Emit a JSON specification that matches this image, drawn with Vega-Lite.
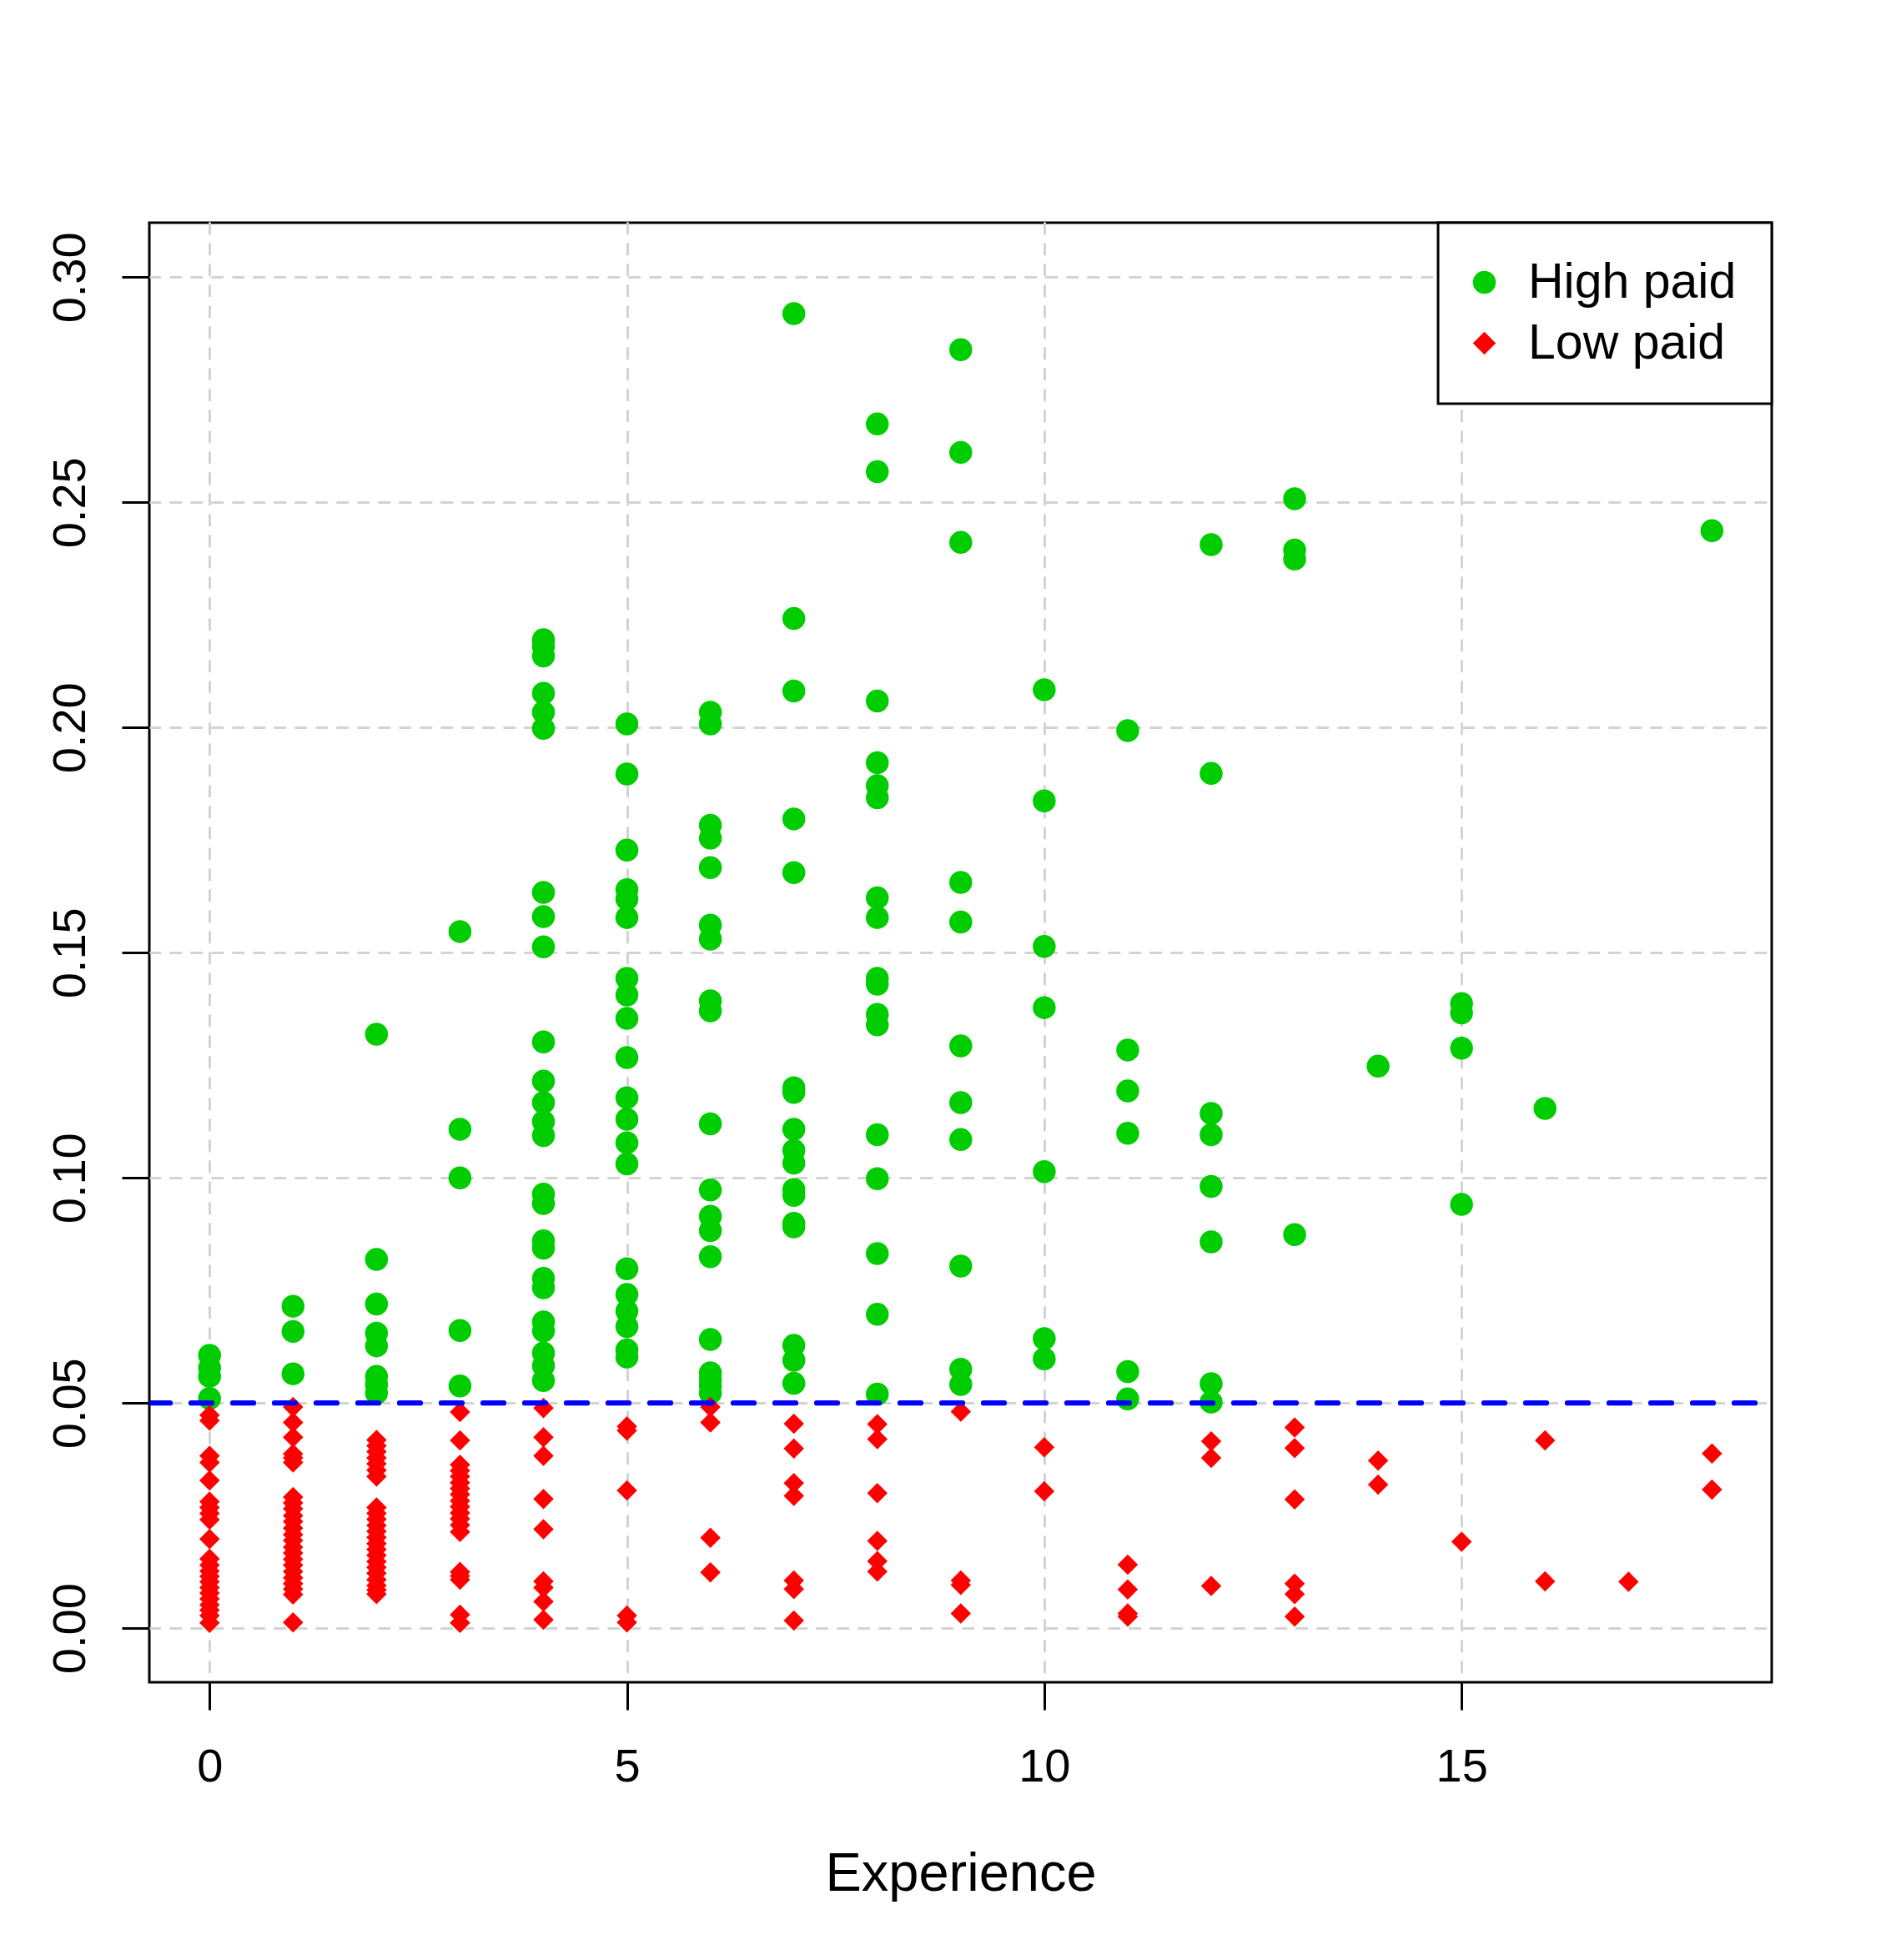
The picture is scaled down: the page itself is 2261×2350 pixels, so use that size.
{
  "$schema": "https://vega.github.io/schema/vega-lite/v6.json",
  "autosize": {"type": "none"},
  "padding": {"left": 179, "top": 267, "right": 137, "bottom": 333},
  "width": 1945,
  "height": 1750,
  "background": "#ffffff",
  "datasets": {
    "workers": [
      {"experience": 0, "rate": 0.0606, "group": "High paid"},
      {"experience": 0, "rate": 0.0578, "group": "High paid"},
      {"experience": 0, "rate": 0.0559, "group": "High paid"},
      {"experience": 0, "rate": 0.0510, "group": "High paid"},
      {"experience": 1, "rate": 0.0715, "group": "High paid"},
      {"experience": 1, "rate": 0.0659, "group": "High paid"},
      {"experience": 1, "rate": 0.0565, "group": "High paid"},
      {"experience": 2, "rate": 0.1319, "group": "High paid"},
      {"experience": 2, "rate": 0.0819, "group": "High paid"},
      {"experience": 2, "rate": 0.0720, "group": "High paid"},
      {"experience": 2, "rate": 0.0655, "group": "High paid"},
      {"experience": 2, "rate": 0.0627, "group": "High paid"},
      {"experience": 2, "rate": 0.0559, "group": "High paid"},
      {"experience": 2, "rate": 0.0541, "group": "High paid"},
      {"experience": 2, "rate": 0.0522, "group": "High paid"},
      {"experience": 3, "rate": 0.1547, "group": "High paid"},
      {"experience": 3, "rate": 0.1108, "group": "High paid"},
      {"experience": 3, "rate": 0.1000, "group": "High paid"},
      {"experience": 3, "rate": 0.0661, "group": "High paid"},
      {"experience": 3, "rate": 0.0538, "group": "High paid"},
      {"experience": 4, "rate": 0.2195, "group": "High paid"},
      {"experience": 4, "rate": 0.2180, "group": "High paid"},
      {"experience": 4, "rate": 0.2159, "group": "High paid"},
      {"experience": 4, "rate": 0.2076, "group": "High paid"},
      {"experience": 4, "rate": 0.2034, "group": "High paid"},
      {"experience": 4, "rate": 0.1998, "group": "High paid"},
      {"experience": 4, "rate": 0.1634, "group": "High paid"},
      {"experience": 4, "rate": 0.1580, "group": "High paid"},
      {"experience": 4, "rate": 0.1513, "group": "High paid"},
      {"experience": 4, "rate": 0.1302, "group": "High paid"},
      {"experience": 4, "rate": 0.1215, "group": "High paid"},
      {"experience": 4, "rate": 0.1167, "group": "High paid"},
      {"experience": 4, "rate": 0.1125, "group": "High paid"},
      {"experience": 4, "rate": 0.1094, "group": "High paid"},
      {"experience": 4, "rate": 0.0964, "group": "High paid"},
      {"experience": 4, "rate": 0.0943, "group": "High paid"},
      {"experience": 4, "rate": 0.0860, "group": "High paid"},
      {"experience": 4, "rate": 0.0844, "group": "High paid"},
      {"experience": 4, "rate": 0.0777, "group": "High paid"},
      {"experience": 4, "rate": 0.0756, "group": "High paid"},
      {"experience": 4, "rate": 0.0680, "group": "High paid"},
      {"experience": 4, "rate": 0.0660, "group": "High paid"},
      {"experience": 4, "rate": 0.0611, "group": "High paid"},
      {"experience": 4, "rate": 0.0583, "group": "High paid"},
      {"experience": 4, "rate": 0.0550, "group": "High paid"},
      {"experience": 5, "rate": 0.2008, "group": "High paid"},
      {"experience": 5, "rate": 0.1897, "group": "High paid"},
      {"experience": 5, "rate": 0.1728, "group": "High paid"},
      {"experience": 5, "rate": 0.1640, "group": "High paid"},
      {"experience": 5, "rate": 0.1619, "group": "High paid"},
      {"experience": 5, "rate": 0.1578, "group": "High paid"},
      {"experience": 5, "rate": 0.1443, "group": "High paid"},
      {"experience": 5, "rate": 0.1406, "group": "High paid"},
      {"experience": 5, "rate": 0.1354, "group": "High paid"},
      {"experience": 5, "rate": 0.1267, "group": "High paid"},
      {"experience": 5, "rate": 0.1178, "group": "High paid"},
      {"experience": 5, "rate": 0.1130, "group": "High paid"},
      {"experience": 5, "rate": 0.1078, "group": "High paid"},
      {"experience": 5, "rate": 0.1031, "group": "High paid"},
      {"experience": 5, "rate": 0.0798, "group": "High paid"},
      {"experience": 5, "rate": 0.0741, "group": "High paid"},
      {"experience": 5, "rate": 0.0704, "group": "High paid"},
      {"experience": 5, "rate": 0.0670, "group": "High paid"},
      {"experience": 5, "rate": 0.0618, "group": "High paid"},
      {"experience": 5, "rate": 0.0602, "group": "High paid"},
      {"experience": 6, "rate": 0.2034, "group": "High paid"},
      {"experience": 6, "rate": 0.2008, "group": "High paid"},
      {"experience": 6, "rate": 0.1783, "group": "High paid"},
      {"experience": 6, "rate": 0.1754, "group": "High paid"},
      {"experience": 6, "rate": 0.1689, "group": "High paid"},
      {"experience": 6, "rate": 0.1561, "group": "High paid"},
      {"experience": 6, "rate": 0.1530, "group": "High paid"},
      {"experience": 6, "rate": 0.1393, "group": "High paid"},
      {"experience": 6, "rate": 0.1371, "group": "High paid"},
      {"experience": 6, "rate": 0.1120, "group": "High paid"},
      {"experience": 6, "rate": 0.0973, "group": "High paid"},
      {"experience": 6, "rate": 0.0915, "group": "High paid"},
      {"experience": 6, "rate": 0.0883, "group": "High paid"},
      {"experience": 6, "rate": 0.0825, "group": "High paid"},
      {"experience": 6, "rate": 0.0641, "group": "High paid"},
      {"experience": 6, "rate": 0.0567, "group": "High paid"},
      {"experience": 6, "rate": 0.0553, "group": "High paid"},
      {"experience": 6, "rate": 0.0539, "group": "High paid"},
      {"experience": 6, "rate": 0.0522, "group": "High paid"},
      {"experience": 7, "rate": 0.2919, "group": "High paid"},
      {"experience": 7, "rate": 0.2242, "group": "High paid"},
      {"experience": 7, "rate": 0.2081, "group": "High paid"},
      {"experience": 7, "rate": 0.1797, "group": "High paid"},
      {"experience": 7, "rate": 0.1678, "group": "High paid"},
      {"experience": 7, "rate": 0.1200, "group": "High paid"},
      {"experience": 7, "rate": 0.1190, "group": "High paid"},
      {"experience": 7, "rate": 0.1108, "group": "High paid"},
      {"experience": 7, "rate": 0.1061, "group": "High paid"},
      {"experience": 7, "rate": 0.1033, "group": "High paid"},
      {"experience": 7, "rate": 0.0974, "group": "High paid"},
      {"experience": 7, "rate": 0.0961, "group": "High paid"},
      {"experience": 7, "rate": 0.0899, "group": "High paid"},
      {"experience": 7, "rate": 0.0891, "group": "High paid"},
      {"experience": 7, "rate": 0.0628, "group": "High paid"},
      {"experience": 7, "rate": 0.0595, "group": "High paid"},
      {"experience": 7, "rate": 0.0544, "group": "High paid"},
      {"experience": 8, "rate": 0.2674, "group": "High paid"},
      {"experience": 8, "rate": 0.2568, "group": "High paid"},
      {"experience": 8, "rate": 0.2059, "group": "High paid"},
      {"experience": 8, "rate": 0.1922, "group": "High paid"},
      {"experience": 8, "rate": 0.1871, "group": "High paid"},
      {"experience": 8, "rate": 0.1844, "group": "High paid"},
      {"experience": 8, "rate": 0.1622, "group": "High paid"},
      {"experience": 8, "rate": 0.1578, "group": "High paid"},
      {"experience": 8, "rate": 0.1443, "group": "High paid"},
      {"experience": 8, "rate": 0.1430, "group": "High paid"},
      {"experience": 8, "rate": 0.1363, "group": "High paid"},
      {"experience": 8, "rate": 0.1340, "group": "High paid"},
      {"experience": 8, "rate": 0.1096, "group": "High paid"},
      {"experience": 8, "rate": 0.0998, "group": "High paid"},
      {"experience": 8, "rate": 0.0832, "group": "High paid"},
      {"experience": 8, "rate": 0.0697, "group": "High paid"},
      {"experience": 8, "rate": 0.0520, "group": "High paid"},
      {"experience": 9, "rate": 0.2839, "group": "High paid"},
      {"experience": 9, "rate": 0.2611, "group": "High paid"},
      {"experience": 9, "rate": 0.2411, "group": "High paid"},
      {"experience": 9, "rate": 0.1656, "group": "High paid"},
      {"experience": 9, "rate": 0.1568, "group": "High paid"},
      {"experience": 9, "rate": 0.1293, "group": "High paid"},
      {"experience": 9, "rate": 0.1167, "group": "High paid"},
      {"experience": 9, "rate": 0.1085, "group": "High paid"},
      {"experience": 9, "rate": 0.0804, "group": "High paid"},
      {"experience": 9, "rate": 0.0575, "group": "High paid"},
      {"experience": 9, "rate": 0.0541, "group": "High paid"},
      {"experience": 10, "rate": 0.2084, "group": "High paid"},
      {"experience": 10, "rate": 0.1837, "group": "High paid"},
      {"experience": 10, "rate": 0.1514, "group": "High paid"},
      {"experience": 10, "rate": 0.1378, "group": "High paid"},
      {"experience": 10, "rate": 0.1014, "group": "High paid"},
      {"experience": 10, "rate": 0.0643, "group": "High paid"},
      {"experience": 10, "rate": 0.0598, "group": "High paid"},
      {"experience": 11, "rate": 0.1993, "group": "High paid"},
      {"experience": 11, "rate": 0.1284, "group": "High paid"},
      {"experience": 11, "rate": 0.1193, "group": "High paid"},
      {"experience": 11, "rate": 0.1099, "group": "High paid"},
      {"experience": 11, "rate": 0.0570, "group": "High paid"},
      {"experience": 11, "rate": 0.0509, "group": "High paid"},
      {"experience": 12, "rate": 0.2406, "group": "High paid"},
      {"experience": 12, "rate": 0.1898, "group": "High paid"},
      {"experience": 12, "rate": 0.1143, "group": "High paid"},
      {"experience": 12, "rate": 0.1096, "group": "High paid"},
      {"experience": 12, "rate": 0.0981, "group": "High paid"},
      {"experience": 12, "rate": 0.0858, "group": "High paid"},
      {"experience": 12, "rate": 0.0543, "group": "High paid"},
      {"experience": 12, "rate": 0.0502, "group": "High paid"},
      {"experience": 13, "rate": 0.2508, "group": "High paid"},
      {"experience": 13, "rate": 0.2394, "group": "High paid"},
      {"experience": 13, "rate": 0.2374, "group": "High paid"},
      {"experience": 13, "rate": 0.0874, "group": "High paid"},
      {"experience": 14, "rate": 0.1248, "group": "High paid"},
      {"experience": 15, "rate": 0.1387, "group": "High paid"},
      {"experience": 15, "rate": 0.1366, "group": "High paid"},
      {"experience": 15, "rate": 0.1288, "group": "High paid"},
      {"experience": 15, "rate": 0.0941, "group": "High paid"},
      {"experience": 16, "rate": 0.1154, "group": "High paid"},
      {"experience": 18, "rate": 0.2437, "group": "High paid"},
      {"experience": 0, "rate": 0.0473, "group": "Low paid"},
      {"experience": 0, "rate": 0.0461, "group": "Low paid"},
      {"experience": 0, "rate": 0.0383, "group": "Low paid"},
      {"experience": 0, "rate": 0.0368, "group": "Low paid"},
      {"experience": 0, "rate": 0.0328, "group": "Low paid"},
      {"experience": 0, "rate": 0.0281, "group": "Low paid"},
      {"experience": 0, "rate": 0.0268, "group": "Low paid"},
      {"experience": 0, "rate": 0.0255, "group": "Low paid"},
      {"experience": 0, "rate": 0.0241, "group": "Low paid"},
      {"experience": 0, "rate": 0.0198, "group": "Low paid"},
      {"experience": 0, "rate": 0.0154, "group": "Low paid"},
      {"experience": 0, "rate": 0.0140, "group": "Low paid"},
      {"experience": 0, "rate": 0.0127, "group": "Low paid"},
      {"experience": 0, "rate": 0.0115, "group": "Low paid"},
      {"experience": 0, "rate": 0.0103, "group": "Low paid"},
      {"experience": 0, "rate": 0.0090, "group": "Low paid"},
      {"experience": 0, "rate": 0.0078, "group": "Low paid"},
      {"experience": 0, "rate": 0.0065, "group": "Low paid"},
      {"experience": 0, "rate": 0.0052, "group": "Low paid"},
      {"experience": 0, "rate": 0.0040, "group": "Low paid"},
      {"experience": 0, "rate": 0.0028, "group": "Low paid"},
      {"experience": 0, "rate": 0.0012, "group": "Low paid"},
      {"experience": 1, "rate": 0.0491, "group": "Low paid"},
      {"experience": 1, "rate": 0.0457, "group": "Low paid"},
      {"experience": 1, "rate": 0.0424, "group": "Low paid"},
      {"experience": 1, "rate": 0.0387, "group": "Low paid"},
      {"experience": 1, "rate": 0.0378, "group": "Low paid"},
      {"experience": 1, "rate": 0.0368, "group": "Low paid"},
      {"experience": 1, "rate": 0.0291, "group": "Low paid"},
      {"experience": 1, "rate": 0.0278, "group": "Low paid"},
      {"experience": 1, "rate": 0.0265, "group": "Low paid"},
      {"experience": 1, "rate": 0.0250, "group": "Low paid"},
      {"experience": 1, "rate": 0.0237, "group": "Low paid"},
      {"experience": 1, "rate": 0.0222, "group": "Low paid"},
      {"experience": 1, "rate": 0.0208, "group": "Low paid"},
      {"experience": 1, "rate": 0.0195, "group": "Low paid"},
      {"experience": 1, "rate": 0.0180, "group": "Low paid"},
      {"experience": 1, "rate": 0.0167, "group": "Low paid"},
      {"experience": 1, "rate": 0.0153, "group": "Low paid"},
      {"experience": 1, "rate": 0.0140, "group": "Low paid"},
      {"experience": 1, "rate": 0.0126, "group": "Low paid"},
      {"experience": 1, "rate": 0.0112, "group": "Low paid"},
      {"experience": 1, "rate": 0.0099, "group": "Low paid"},
      {"experience": 1, "rate": 0.0087, "group": "Low paid"},
      {"experience": 1, "rate": 0.0075, "group": "Low paid"},
      {"experience": 1, "rate": 0.0013, "group": "Low paid"},
      {"experience": 2, "rate": 0.0418, "group": "Low paid"},
      {"experience": 2, "rate": 0.0405, "group": "Low paid"},
      {"experience": 2, "rate": 0.0392, "group": "Low paid"},
      {"experience": 2, "rate": 0.0378, "group": "Low paid"},
      {"experience": 2, "rate": 0.0365, "group": "Low paid"},
      {"experience": 2, "rate": 0.0351, "group": "Low paid"},
      {"experience": 2, "rate": 0.0337, "group": "Low paid"},
      {"experience": 2, "rate": 0.0268, "group": "Low paid"},
      {"experience": 2, "rate": 0.0255, "group": "Low paid"},
      {"experience": 2, "rate": 0.0242, "group": "Low paid"},
      {"experience": 2, "rate": 0.0228, "group": "Low paid"},
      {"experience": 2, "rate": 0.0215, "group": "Low paid"},
      {"experience": 2, "rate": 0.0202, "group": "Low paid"},
      {"experience": 2, "rate": 0.0188, "group": "Low paid"},
      {"experience": 2, "rate": 0.0175, "group": "Low paid"},
      {"experience": 2, "rate": 0.0162, "group": "Low paid"},
      {"experience": 2, "rate": 0.0148, "group": "Low paid"},
      {"experience": 2, "rate": 0.0135, "group": "Low paid"},
      {"experience": 2, "rate": 0.0122, "group": "Low paid"},
      {"experience": 2, "rate": 0.0108, "group": "Low paid"},
      {"experience": 2, "rate": 0.0095, "group": "Low paid"},
      {"experience": 2, "rate": 0.0085, "group": "Low paid"},
      {"experience": 2, "rate": 0.0076, "group": "Low paid"},
      {"experience": 3, "rate": 0.0480, "group": "Low paid"},
      {"experience": 3, "rate": 0.0417, "group": "Low paid"},
      {"experience": 3, "rate": 0.0363, "group": "Low paid"},
      {"experience": 3, "rate": 0.0350, "group": "Low paid"},
      {"experience": 3, "rate": 0.0337, "group": "Low paid"},
      {"experience": 3, "rate": 0.0323, "group": "Low paid"},
      {"experience": 3, "rate": 0.0310, "group": "Low paid"},
      {"experience": 3, "rate": 0.0297, "group": "Low paid"},
      {"experience": 3, "rate": 0.0283, "group": "Low paid"},
      {"experience": 3, "rate": 0.0270, "group": "Low paid"},
      {"experience": 3, "rate": 0.0256, "group": "Low paid"},
      {"experience": 3, "rate": 0.0243, "group": "Low paid"},
      {"experience": 3, "rate": 0.0229, "group": "Low paid"},
      {"experience": 3, "rate": 0.0214, "group": "Low paid"},
      {"experience": 3, "rate": 0.0125, "group": "Low paid"},
      {"experience": 3, "rate": 0.0116, "group": "Low paid"},
      {"experience": 3, "rate": 0.0108, "group": "Low paid"},
      {"experience": 3, "rate": 0.0030, "group": "Low paid"},
      {"experience": 3, "rate": 0.0012, "group": "Low paid"},
      {"experience": 4, "rate": 0.0489, "group": "Low paid"},
      {"experience": 4, "rate": 0.0424, "group": "Low paid"},
      {"experience": 4, "rate": 0.0383, "group": "Low paid"},
      {"experience": 4, "rate": 0.0287, "group": "Low paid"},
      {"experience": 4, "rate": 0.0220, "group": "Low paid"},
      {"experience": 4, "rate": 0.0104, "group": "Low paid"},
      {"experience": 4, "rate": 0.0090, "group": "Low paid"},
      {"experience": 4, "rate": 0.0059, "group": "Low paid"},
      {"experience": 4, "rate": 0.0019, "group": "Low paid"},
      {"experience": 5, "rate": 0.0448, "group": "Low paid"},
      {"experience": 5, "rate": 0.0439, "group": "Low paid"},
      {"experience": 5, "rate": 0.0306, "group": "Low paid"},
      {"experience": 5, "rate": 0.0028, "group": "Low paid"},
      {"experience": 5, "rate": 0.0013, "group": "Low paid"},
      {"experience": 6, "rate": 0.0491, "group": "Low paid"},
      {"experience": 6, "rate": 0.0457, "group": "Low paid"},
      {"experience": 6, "rate": 0.0201, "group": "Low paid"},
      {"experience": 6, "rate": 0.0124, "group": "Low paid"},
      {"experience": 7, "rate": 0.0454, "group": "Low paid"},
      {"experience": 7, "rate": 0.0399, "group": "Low paid"},
      {"experience": 7, "rate": 0.0322, "group": "Low paid"},
      {"experience": 7, "rate": 0.0294, "group": "Low paid"},
      {"experience": 7, "rate": 0.0106, "group": "Low paid"},
      {"experience": 7, "rate": 0.0087, "group": "Low paid"},
      {"experience": 7, "rate": 0.0017, "group": "Low paid"},
      {"experience": 8, "rate": 0.0453, "group": "Low paid"},
      {"experience": 8, "rate": 0.0420, "group": "Low paid"},
      {"experience": 8, "rate": 0.0300, "group": "Low paid"},
      {"experience": 8, "rate": 0.0194, "group": "Low paid"},
      {"experience": 8, "rate": 0.0149, "group": "Low paid"},
      {"experience": 8, "rate": 0.0126, "group": "Low paid"},
      {"experience": 9, "rate": 0.0481, "group": "Low paid"},
      {"experience": 9, "rate": 0.0106, "group": "Low paid"},
      {"experience": 9, "rate": 0.0096, "group": "Low paid"},
      {"experience": 9, "rate": 0.0033, "group": "Low paid"},
      {"experience": 10, "rate": 0.0402, "group": "Low paid"},
      {"experience": 10, "rate": 0.0304, "group": "Low paid"},
      {"experience": 11, "rate": 0.0141, "group": "Low paid"},
      {"experience": 11, "rate": 0.0086, "group": "Low paid"},
      {"experience": 11, "rate": 0.0033, "group": "Low paid"},
      {"experience": 11, "rate": 0.0026, "group": "Low paid"},
      {"experience": 12, "rate": 0.0415, "group": "Low paid"},
      {"experience": 12, "rate": 0.0378, "group": "Low paid"},
      {"experience": 12, "rate": 0.0094, "group": "Low paid"},
      {"experience": 13, "rate": 0.0446, "group": "Low paid"},
      {"experience": 13, "rate": 0.0400, "group": "Low paid"},
      {"experience": 13, "rate": 0.0286, "group": "Low paid"},
      {"experience": 13, "rate": 0.0099, "group": "Low paid"},
      {"experience": 13, "rate": 0.0076, "group": "Low paid"},
      {"experience": 13, "rate": 0.0026, "group": "Low paid"},
      {"experience": 14, "rate": 0.0372, "group": "Low paid"},
      {"experience": 14, "rate": 0.0319, "group": "Low paid"},
      {"experience": 15, "rate": 0.0192, "group": "Low paid"},
      {"experience": 16, "rate": 0.0417, "group": "Low paid"},
      {"experience": 16, "rate": 0.0104, "group": "Low paid"},
      {"experience": 17, "rate": 0.0103, "group": "Low paid"},
      {"experience": 18, "rate": 0.0388, "group": "Low paid"},
      {"experience": 18, "rate": 0.0308, "group": "Low paid"}
    ],
    "cutoff": [{"rate": 0.05}]
  },
  "layer": [
    {
      "data": {"name": "workers"},
      "mark": {"type": "point", "filled": true, "opacity": 1, "strokeWidth": 0},
      "encoding": {
        "x": {
          "field": "experience",
          "type": "quantitative",
          "scale": {"domain": [-0.722, 18.716], "nice": false, "zero": false},
          "axis": {
            "values": [0, 5, 10, 15],
            "format": "d",
            "title": "Experience",
            "titleY": 249.5,
            "titleBaseline": "alphabetic",
            "titleFontSize": 65,
            "labelBaseline": "alphabetic",
            "labelPadding": 85.5
          }
        },
        "y": {
          "field": "rate",
          "type": "quantitative",
          "scale": {"domain": [-0.012, 0.3121], "nice": false, "zero": false},
          "axis": {
            "values": [0, 0.05, 0.1, 0.15, 0.2, 0.25, 0.3],
            "format": ".2f",
            "title": null,
            "labelAngle": 270,
            "labelAlign": "center",
            "labelBaseline": "alphabetic",
            "labelPadding": 45
          }
        },
        "color": {
          "field": "group",
          "type": "nominal",
          "scale": {"domain": ["High paid", "Low paid"], "range": ["#00cd00", "#ff0000"]},
          "legend": {"title": null, "orient": "top-right", "offset": 0}
        },
        "shape": {
          "field": "group",
          "type": "nominal",
          "scale": {"domain": ["High paid", "Low paid"], "range": ["circle", "diamond"]},
          "legend": {"title": null, "orient": "top-right", "offset": 0}
        },
        "size": {
          "condition": {"test": "datum.group === 'Low paid'", "value": 600},
          "value": 756
        }
      }
    },
    {
      "data": {"name": "cutoff"},
      "mark": {"type": "rule", "color": "#0000ff", "strokeWidth": 6.25, "strokeDash": [25, 25], "strokeCap": "round", "clip": true},
      "encoding": {
        "x": {"datum": -0.722, "type": "quantitative"},
        "x2": {"datum": 18.716},
        "y": {"field": "rate", "type": "quantitative"}
      }
    }
  ],
  "config": {
    "font": "Liberation Sans",
    "view": {"stroke": "#000000", "strokeWidth": 3},
    "axis": {
      "zindex": 1,
      "domain": false,
      "grid": true,
      "gridColor": "#d3d3d3",
      "gridWidth": 3,
      "gridDash": [12.5, 12.5],
      "gridCap": "round",
      "gridOpacity": 1,
      "ticks": true,
      "tickSize": 33,
      "tickWidth": 3,
      "tickColor": "#000000",
      "labelFont": "Liberation Sans",
      "labelFontSize": 56,
      "labelColor": "#000000",
      "labelOverlap": false,
      "labelFlush": false,
      "titleFont": "Liberation Sans",
      "titleFontWeight": "normal",
      "titleColor": "#000000"
    },
    "legend": {
      "strokeColor": "#000000",
      "strokeWidth": 3,
      "fillColor": "#ffffff",
      "padding": 42,
      "rowPadding": 13,
      "labelOffset": 23,
      "symbolOffset": -16,
      "symbolSize": 756,
      "labelFont": "Liberation Sans",
      "labelFontSize": 59,
      "labelColor": "#000000",
      "labelLimit": 500,
      "symbolStrokeWidth": 0,
      "symbolOpacity": 1
    }
  }
}
